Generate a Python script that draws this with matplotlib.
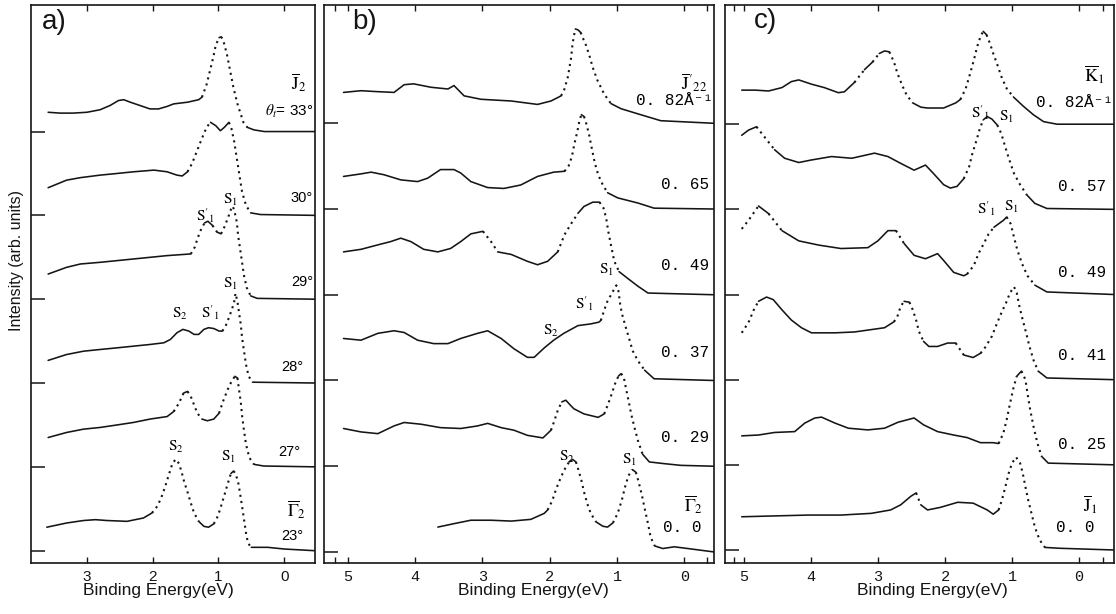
import numpy as np
import matplotlib
matplotlib.use('Agg')
import matplotlib.pyplot as plt

plt.rcParams['mathtext.fontset'] = 'stix'
plt.rcParams['font.family'] = ['Liberation Sans', 'DejaVu Sans']

INK = '#151515'
MONO = ['Liberation Mono', 'DejaVu Sans Mono']

# ---- panel a: J2 / Gamma2 series vs. polar angle ----
a33_E = [3.59, 3.41, 3.21, 3.00, 2.80, 2.65, 2.52, 2.44, 2.34, 2.19, 2.04, 1.91, 1.78, 1.68, 1.47, 1.30, 1.25, 1.18, 1.13, 1.08, 1.04, 0.99, 0.96, 0.93, 0.87, 0.82, 0.77, 0.71, 0.62, 0.56, 0.46, 0.30, -0.48]
a33_I = [0.23, 0.22, 0.22, 0.23, 0.26, 0.31, 0.37, 0.38, 0.35, 0.31, 0.27, 0.27, 0.30, 0.33, 0.35, 0.38, 0.41, 0.56, 0.72, 0.88, 1.03, 1.12, 1.13, 1.10, 0.92, 0.72, 0.52, 0.33, 0.11, 0.05, 0.02, 0.00, 0.00]

a30_E = [3.59, 3.31, 3.10, 2.80, 2.54, 2.29, 1.98, 1.78, 1.63, 1.55, 1.47, 1.40, 1.32, 1.25, 1.18, 1.12, 1.04, 0.97, 0.91, 0.84, 0.80, 0.76, 0.72, 0.68, 0.64, 0.58, 0.51, 0.36, -0.48]
a30_I = [0.33, 0.42, 0.45, 0.48, 0.50, 0.52, 0.54, 0.52, 0.48, 0.47, 0.52, 0.62, 0.78, 0.92, 1.05, 1.11, 1.07, 1.01, 1.05, 1.11, 1.03, 0.88, 0.68, 0.48, 0.28, 0.12, 0.03, 0.01, 0.00]

a29_E = [3.59, 3.31, 3.10, 2.80, 2.29, 1.78, 1.42, 1.36, 1.31, 1.26, 1.21, 1.16, 1.09, 1.02, 0.96, 0.91, 0.85, 0.81, 0.78, 0.75, 0.72, 0.70, 0.67, 0.64, 0.61, 0.57, 0.51, 0.41, -0.48]
a29_I = [0.30, 0.38, 0.42, 0.44, 0.48, 0.52, 0.54, 0.62, 0.74, 0.84, 0.91, 0.93, 0.88, 0.80, 0.78, 0.86, 0.98, 1.07, 1.11, 1.03, 0.92, 0.76, 0.60, 0.44, 0.28, 0.14, 0.04, 0.01, 0.00]

a28_E = [3.59, 3.31, 3.05, 2.80, 2.54, 2.29, 2.04, 1.83, 1.73, 1.63, 1.54, 1.45, 1.37, 1.30, 1.22, 1.15, 1.07, 0.99, 0.94, 0.89, 0.84, 0.79, 0.76, 0.74, 0.71, 0.69, 0.66, 0.64, 0.61, 0.58, 0.54, 0.48, -0.48]
a28_I = [0.27, 0.34, 0.38, 0.40, 0.42, 0.44, 0.46, 0.48, 0.52, 0.60, 0.64, 0.62, 0.58, 0.58, 0.64, 0.66, 0.65, 0.62, 0.62, 0.68, 0.78, 0.89, 0.97, 1.07, 0.97, 0.86, 0.70, 0.54, 0.38, 0.22, 0.08, 0.01, 0.00]

a27_E = [3.59, 3.31, 3.05, 2.80, 2.54, 2.29, 2.04, 1.78, 1.68, 1.60, 1.53, 1.47, 1.42, 1.37, 1.32, 1.25, 1.17, 1.07, 0.99, 0.93, 0.86, 0.80, 0.75, 0.71, 0.69, 0.66, 0.64, 0.61, 0.58, 0.53, 0.46, 0.31, -0.48]
a27_I = [0.35, 0.41, 0.45, 0.47, 0.50, 0.53, 0.57, 0.60, 0.66, 0.76, 0.88, 0.90, 0.84, 0.74, 0.64, 0.57, 0.55, 0.57, 0.64, 0.78, 0.92, 1.02, 1.08, 1.06, 0.94, 0.78, 0.61, 0.43, 0.27, 0.11, 0.03, 0.01, 0.00]

a23_E = [3.61, 3.31, 3.05, 2.87, 2.70, 2.39, 2.14, 2.01, 1.93, 1.87, 1.82, 1.78, 1.74, 1.70, 1.65, 1.60, 1.56, 1.52, 1.47, 1.42, 1.37, 1.30, 1.22, 1.15, 1.07, 1.01, 0.96, 0.91, 0.85, 0.81, 0.77, 0.74, 0.70, 0.67, 0.64, 0.61, 0.58, 0.55, 0.50, 0.25, 0.00, -0.46]
a23_I = [0.28, 0.33, 0.36, 0.37, 0.36, 0.35, 0.39, 0.45, 0.53, 0.63, 0.74, 0.84, 0.94, 1.04, 1.09, 1.04, 0.94, 0.82, 0.70, 0.57, 0.45, 0.35, 0.29, 0.28, 0.32, 0.41, 0.53, 0.66, 0.82, 0.92, 0.95, 0.92, 0.82, 0.68, 0.53, 0.37, 0.21, 0.09, 0.04, 0.04, 0.02, 0.00]

# ---- panel b: Gamma2 -> J'22, k_parallel in 1/Angstrom ----
b082_E = [5.06, 4.80, 4.58, 4.31, 4.16, 4.02, 3.76, 3.51, 3.42, 3.27, 3.02, 2.57, 2.18, 1.98, 1.83, 1.78, 1.73, 1.68, 1.66, 1.62, 1.58, 1.54, 1.51, 1.46, 1.41, 1.36, 1.29, 1.19, 1.09, 0.94, 0.69, 0.35, -0.44]
b082_I = [0.36, 0.38, 0.37, 0.36, 0.45, 0.46, 0.42, 0.40, 0.44, 0.32, 0.28, 0.26, 0.22, 0.26, 0.32, 0.40, 0.54, 0.77, 0.93, 1.10, 1.09, 1.06, 1.00, 0.91, 0.79, 0.65, 0.50, 0.34, 0.23, 0.17, 0.11, 0.03, 0.00]

b065_E = [5.06, 4.80, 4.65, 4.46, 4.21, 3.96, 3.81, 3.62, 3.42, 3.32, 3.17, 2.92, 2.68, 2.43, 2.18, 1.94, 1.78, 1.72, 1.67, 1.63, 1.59, 1.56, 1.53, 1.49, 1.45, 1.41, 1.37, 1.33, 1.28, 1.21, 1.14, 0.99, 0.69, 0.45, -0.44]
b065_I = [0.38, 0.41, 0.43, 0.40, 0.34, 0.32, 0.36, 0.46, 0.46, 0.42, 0.32, 0.25, 0.24, 0.28, 0.38, 0.43, 0.44, 0.50, 0.61, 0.77, 0.90, 1.02, 1.10, 1.08, 0.98, 0.85, 0.69, 0.54, 0.40, 0.28, 0.19, 0.13, 0.07, 0.01, 0.00]

b049_E = [5.06, 4.80, 4.51, 4.36, 4.21, 4.06, 3.87, 3.66, 3.47, 3.32, 3.17, 2.99, 2.87, 2.77, 2.57, 2.33, 2.18, 2.03, 1.88, 1.78, 1.68, 1.58, 1.49, 1.36, 1.26, 1.20, 1.16, 1.13, 1.09, 1.04, 0.97, 0.84, 0.69, 0.54, -0.44]
b049_I = [0.50, 0.53, 0.59, 0.62, 0.66, 0.62, 0.53, 0.50, 0.54, 0.62, 0.71, 0.74, 0.62, 0.50, 0.47, 0.39, 0.35, 0.39, 0.50, 0.70, 0.83, 0.95, 1.03, 1.08, 1.08, 1.01, 0.89, 0.74, 0.58, 0.39, 0.27, 0.19, 0.10, 0.02, 0.00]

b037_E = [5.06, 4.80, 4.55, 4.31, 4.16, 3.96, 3.72, 3.51, 3.32, 3.07, 2.92, 2.72, 2.53, 2.33, 2.23, 2.08, 1.94, 1.79, 1.58, 1.39, 1.27, 1.24, 1.19, 1.14, 1.08, 1.04, 1.01, 0.98, 0.95, 0.92, 0.87, 0.82, 0.77, 0.69, 0.59, 0.45, -0.44]
b037_I = [0.49, 0.47, 0.55, 0.58, 0.56, 0.47, 0.43, 0.43, 0.49, 0.55, 0.58, 0.49, 0.37, 0.27, 0.27, 0.38, 0.47, 0.55, 0.64, 0.66, 0.68, 0.70, 0.82, 0.93, 1.01, 1.07, 1.11, 1.05, 0.87, 0.76, 0.62, 0.49, 0.35, 0.23, 0.12, 0.02, 0.00]

b029_E = [5.06, 4.80, 4.55, 4.31, 4.16, 3.91, 3.62, 3.32, 3.07, 2.92, 2.72, 2.53, 2.33, 2.10, 1.98, 1.93, 1.88, 1.82, 1.76, 1.69, 1.64, 1.49, 1.28, 1.19, 1.13, 1.08, 1.03, 0.98, 0.94, 0.90, 0.87, 0.83, 0.79, 0.74, 0.69, 0.62, 0.52, 0.30, 0.05, -0.44]
b029_I = [0.44, 0.40, 0.38, 0.47, 0.51, 0.49, 0.45, 0.44, 0.47, 0.50, 0.45, 0.42, 0.36, 0.33, 0.42, 0.53, 0.65, 0.75, 0.77, 0.71, 0.67, 0.61, 0.57, 0.61, 0.73, 0.84, 0.96, 1.05, 1.08, 1.04, 0.92, 0.77, 0.61, 0.45, 0.30, 0.14, 0.05, 0.03, 0.01, 0.00]

b000_E = [3.66, 3.42, 3.17, 2.87, 2.57, 2.28, 2.08, 2.03, 1.96, 1.91, 1.86, 1.81, 1.76, 1.71, 1.66, 1.61, 1.57, 1.53, 1.49, 1.44, 1.39, 1.31, 1.21, 1.14, 1.06, 0.99, 0.93, 0.88, 0.83, 0.77, 0.72, 0.68, 0.63, 0.59, 0.54, 0.50, 0.44, 0.32, 0.15, -0.05, -0.44]
b000_I = [0.29, 0.33, 0.37, 0.37, 0.36, 0.38, 0.45, 0.49, 0.60, 0.72, 0.82, 0.91, 0.99, 1.05, 1.08, 1.05, 0.95, 0.84, 0.70, 0.56, 0.45, 0.35, 0.30, 0.29, 0.34, 0.45, 0.60, 0.76, 0.89, 0.96, 0.93, 0.82, 0.66, 0.51, 0.33, 0.17, 0.07, 0.04, 0.06, 0.04, 0.00]

# ---- panel c: J1 -> K1 ----
c082_E = [5.03, 4.83, 4.63, 4.43, 4.29, 4.18, 3.99, 3.80, 3.59, 3.50, 3.35, 3.20, 3.08, 2.98, 2.90, 2.83, 2.76, 2.71, 2.64, 2.57, 2.48, 2.36, 2.26, 2.02, 1.84, 1.77, 1.69, 1.63, 1.57, 1.52, 1.47, 1.43, 1.38, 1.33, 1.28, 1.22, 1.15, 1.08, 0.98, 0.83, 0.68, 0.53, 0.33, -0.52]
c082_I = [0.40, 0.40, 0.39, 0.43, 0.50, 0.52, 0.47, 0.43, 0.37, 0.38, 0.49, 0.64, 0.73, 0.83, 0.86, 0.85, 0.73, 0.60, 0.46, 0.34, 0.25, 0.20, 0.19, 0.19, 0.25, 0.29, 0.42, 0.58, 0.75, 0.91, 1.03, 1.09, 1.05, 0.95, 0.83, 0.70, 0.54, 0.42, 0.32, 0.21, 0.11, 0.03, 0.00, 0.00]

c057_E = [5.03, 4.93, 4.81, 4.69, 4.54, 4.39, 4.18, 3.99, 3.69, 3.39, 3.05, 2.85, 2.66, 2.46, 2.29, 2.17, 2.02, 1.92, 1.82, 1.72, 1.64, 1.59, 1.53, 1.48, 1.43, 1.37, 1.30, 1.22, 1.16, 1.10, 1.04, 0.97, 0.88, 0.78, 0.66, 0.48, -0.52]
c057_I = [0.87, 0.93, 0.97, 0.85, 0.70, 0.60, 0.55, 0.58, 0.62, 0.60, 0.66, 0.62, 0.54, 0.46, 0.52, 0.42, 0.29, 0.25, 0.27, 0.36, 0.50, 0.66, 0.81, 0.95, 1.05, 1.09, 1.06, 0.99, 0.89, 0.73, 0.58, 0.42, 0.29, 0.17, 0.07, 0.01, 0.00]

c049_E = [5.03, 4.93, 4.78, 4.63, 4.43, 4.18, 3.88, 3.55, 3.15, 3.00, 2.85, 2.73, 2.61, 2.46, 2.29, 2.11, 2.02, 1.87, 1.72, 1.67, 1.57, 1.50, 1.42, 1.35, 1.27, 1.20, 1.13, 1.08, 1.02, 0.97, 0.92, 0.85, 0.77, 0.66, 0.48, -0.52]
c049_I = [0.77, 0.87, 1.04, 0.95, 0.75, 0.63, 0.58, 0.54, 0.55, 0.63, 0.75, 0.75, 0.60, 0.46, 0.42, 0.48, 0.40, 0.26, 0.22, 0.24, 0.34, 0.48, 0.60, 0.71, 0.79, 0.83, 0.87, 0.91, 0.83, 0.67, 0.52, 0.36, 0.22, 0.11, 0.03, 0.00]

c041_E = [5.03, 4.93, 4.85, 4.78, 4.66, 4.56, 4.43, 4.29, 4.14, 3.99, 3.64, 3.35, 2.90, 2.76, 2.71, 2.66, 2.61, 2.53, 2.48, 2.43, 2.39, 2.32, 2.24, 2.11, 1.96, 1.84, 1.72, 1.58, 1.47, 1.40, 1.30, 1.22, 1.15, 1.09, 1.03, 0.97, 0.93, 0.89, 0.84, 0.79, 0.74, 0.68, 0.61, 0.48, -0.52]
c041_I = [0.55, 0.67, 0.82, 0.92, 0.97, 0.94, 0.82, 0.70, 0.61, 0.55, 0.55, 0.56, 0.61, 0.68, 0.74, 0.86, 0.92, 0.91, 0.82, 0.70, 0.57, 0.45, 0.39, 0.39, 0.43, 0.43, 0.29, 0.26, 0.31, 0.38, 0.51, 0.67, 0.80, 0.90, 1.02, 1.09, 1.02, 0.86, 0.70, 0.55, 0.39, 0.23, 0.10, 0.02, 0.00]

c025_E = [5.03, 4.78, 4.54, 4.24, 4.09, 3.94, 3.84, 3.64, 3.44, 3.15, 2.90, 2.70, 2.46, 2.32, 2.11, 1.87, 1.67, 1.47, 1.28, 1.20, 1.13, 1.08, 1.03, 0.98, 0.93, 0.86, 0.80, 0.77, 0.73, 0.68, 0.62, 0.56, 0.46, -0.52]
c025_I = [0.34, 0.35, 0.38, 0.39, 0.49, 0.55, 0.56, 0.49, 0.43, 0.41, 0.43, 0.50, 0.55, 0.47, 0.39, 0.35, 0.32, 0.26, 0.26, 0.25, 0.37, 0.53, 0.72, 0.90, 1.04, 1.10, 1.00, 0.84, 0.65, 0.45, 0.25, 0.10, 0.02, 0.00]

c000_E = [5.03, 4.54, 4.04, 3.55, 3.10, 2.81, 2.66, 2.51, 2.43, 2.36, 2.26, 2.07, 1.81, 1.58, 1.37, 1.28, 1.20, 1.15, 1.10, 1.05, 1.00, 0.94, 0.88, 0.84, 0.80, 0.76, 0.71, 0.66, 0.59, 0.51, 0.29, -0.52]
c000_I = [0.39, 0.40, 0.41, 0.41, 0.43, 0.47, 0.53, 0.63, 0.67, 0.53, 0.47, 0.50, 0.56, 0.55, 0.47, 0.42, 0.47, 0.59, 0.74, 0.90, 1.02, 1.09, 1.02, 0.90, 0.74, 0.59, 0.43, 0.27, 0.12, 0.03, 0.02, 0.00]

a_curves = [(a23_E, a23_I), (a27_E, a27_I), (a28_E, a28_I), (a29_E, a29_I), (a30_E, a30_I), (a33_E, a33_I)]
b_curves = [(b000_E, b000_I), (b029_E, b029_I), (b037_E, b037_I), (b049_E, b049_I), (b065_E, b065_I), (b082_E, b082_I)]
c_curves = [(c000_E, c000_I), (c025_E, c025_I), (c041_E, c041_I), (c049_E, c049_I), (c057_E, c057_I), (c082_E, c082_I)]


def draw_spectrum(ax, energy, counts, offset):
    """Solid where the trace is flat, dotted where it climbs steeply."""
    x = np.asarray(energy, float)
    y = np.asarray(counts, float) + offset
    pts = ax.transData.transform(np.column_stack([x, y]))
    d = np.diff(pts, axis=0)
    steep = np.abs(d[:, 1]) > 1.2 * np.abs(d[:, 0])
    start = 0
    for k in range(1, len(steep) + 1):
        if k == len(steep) or steep[k] != steep[start]:
            seg = slice(start, k + 1)
            if steep[start]:
                ax.plot(x[seg], y[seg], color=INK, lw=1.5,
                        linestyle=(0, (1.0, 2.0)), dash_capstyle='butt')
            else:
                ax.plot(x[seg], y[seg], color=INK, lw=1.15,
                        solid_joinstyle='round', solid_capstyle='round')
            start = k


fig = plt.figure(figsize=(11.16, 6.14), dpi=100)
ax_a = fig.add_axes([0.0278, 0.0836, 0.2545, 0.9083])
ax_b = fig.add_axes([0.2903, 0.0836, 0.3495, 0.9083])
ax_c = fig.add_axes([0.6496, 0.0836, 0.3486, 0.9083])

setup = [
    (ax_a, a_curves, (3.85, -0.47), (-0.143, 6.51), [3, 2, 1, 0], [], 0.45, False),
    (ax_b, b_curves, (5.35, -0.44), (-0.125, 6.38), [5, 4, 3, 2, 1, 0], [5.18, -0.33], 0.536, True),
    (ax_c, c_curves, (5.28, -0.52), (-0.149, 6.40), [5, 4, 3, 2, 1, 0], [5.14, -0.36], 0.532, True),
]

for ax, curves, xl, yl, ticks, minor, xlab_x, mono in setup:
    ax.set_xlim(*xl)
    ax.set_ylim(*yl)
    ax.set_xticks(ticks)
    ax.set_xticks(minor, minor=True)
    ax.set_yticks(range(len(curves)))
    ax.set_yticklabels([])
    ax.tick_params(axis='x', which='both', direction='in', top=True,
                   length=4, width=1.0, labelsize=11, pad=5, colors=INK)
    ax.tick_params(axis='y', direction='in', left=True, right=False,
                   length=10, width=1.1, colors=INK)
    for lab in ax.get_xticklabels():
        lab.set_family(MONO if mono else ['Liberation Sans'])
    for sp in ax.spines.values():
        sp.set_linewidth(1.2)
        sp.set_color(INK)
    ax.set_xlabel('Binding Energy(eV)', fontsize=12.5, color=INK)
    ax.xaxis.set_label_coords(xlab_x, -0.036)
    ax.xaxis.label.set_va('top')
    for i, (E, I) in enumerate(curves):
        draw_spectrum(ax, E, I, i)

# panel letters
ax_a.text(3.68, 6.31, 'a)', fontsize=20, va='center', ha='left', color=INK)
ax_b.text(4.93, 6.18, 'b)', fontsize=20, va='center', ha='left', color=INK)
ax_c.text(4.85, 6.21, 'c)', fontsize=20, va='center', ha='left', color=INK)

S1 = r'$\mathrm{S}_1$'
S1p = r"$\mathrm{S}'_1$"
S2 = r'$\mathrm{S}_2$'

# panel a annotations
ax_a.text(-0.22, 5.59, r'$\overline{\mathrm{J}}_{2}$', fontsize=13, ha='center', va='center')
ax_a.text(-0.44, 5.24, r'$\theta_t$= 33°', fontsize=11, ha='right', va='center')
for xv, yv, txt in [(-0.44, 4.21, '30°'), (-0.44, 3.21, '29°'), (-0.29, 2.19, '28°'),
                    (-0.25, 1.18, '27°'), (-0.29, 0.18, '23°')]:
    ax_a.text(xv, yv, txt, fontsize=10.5, ha='right', va='center')
ax_a.text(-0.18, 0.49, r'$\overline{\Gamma}_{2}$', fontsize=13, ha='center', va='center')
for x, y, t in [(1.19, 4.00, S1p), (0.81, 4.19, S1), (0.81, 3.18, S1),
                (1.58, 2.83, S2), (1.12, 2.84, S1p), (1.64, 1.24, S2), (0.84, 1.12, S1)]:
    ax_a.text(x, y, t, fontsize=11, ha='center', va='center')

# panel b annotations
ax_b.text(-0.14, 5.48, r"$\overline{\mathrm{J}}'_{22}$", fontsize=13, ha='center', va='center')
ax_b.text(-0.42, 5.27, '0. 82Å⁻¹', fontsize=11.5, ha='right', va='center', family=MONO)
for yv, txt in [(4.29, '0. 65'), (3.34, '0. 49'), (2.33, '0. 37'), (1.34, '0. 29')]:
    ax_b.text(-0.37, yv, txt, fontsize=11.5, ha='right', va='center', family=MONO)
ax_b.text(-0.14, 0.55, r'$\overline{\Gamma}_{2}$', fontsize=13, ha='center', va='center')
ax_b.text(-0.25, 0.28, '0. 0', fontsize=11.5, ha='right', va='center', family=MONO)
for x, y, t in [(1.15, 3.29, S1), (1.49, 2.90, S1p), (1.98, 2.58, S2),
                (1.74, 1.11, S2), (0.82, 1.07, S1)]:
    ax_b.text(x, y, t, fontsize=11, ha='center', va='center')

# panel c annotations
ax_c.text(-0.22, 5.58, r'$\overline{\mathrm{K}}_{1}$', fontsize=13, ha='center', va='center')
ax_c.text(-0.50, 5.26, '0. 82Å⁻¹', fontsize=11.5, ha='right', va='center', family=MONO)
for yv, txt in [(4.27, '0. 57'), (3.26, '0. 49'), (2.28, '0. 41'), (1.24, '0. 25')]:
    ax_c.text(-0.40, yv, txt, fontsize=11.5, ha='right', va='center', family=MONO)
ax_c.text(-0.17, 0.53, r'$\overline{\mathrm{J}}_{1}$', fontsize=13, ha='center', va='center')
ax_c.text(-0.23, 0.26, '0. 0', fontsize=11.5, ha='right', va='center', family=MONO)
for x, y, t in [(1.47, 5.13, S1p), (1.09, 5.08, S1), (1.38, 4.01, S1p), (1.01, 4.03, S1)]:
    ax_c.text(x, y, t, fontsize=11, ha='center', va='center')

fig.text(0.0152, 0.575, 'Intensity (arb. units)', rotation=90, fontsize=11.5,
         ha='center', va='center', color=INK)

fig.savefig('out.png', dpi=100)
